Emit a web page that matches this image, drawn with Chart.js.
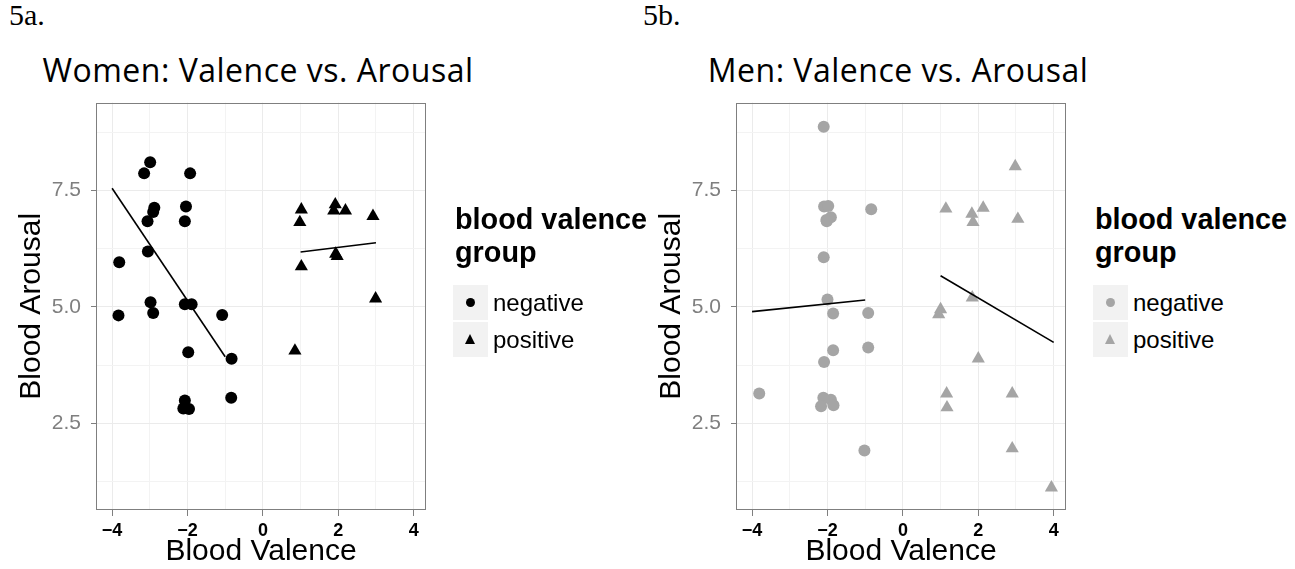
<!DOCTYPE html>
<html>
<head>
<meta charset="utf-8">
<script src="https://cdn.jsdelivr.net/npm/chart.js@4.4.0/dist/chart.umd.min.js"></script>
<style>
  html, body { margin:0; padding:0; background:#fff; }
  body { width:1295px; height:569px; position:relative; overflow:hidden; font-family:"Liberation Sans", Arial, sans-serif; color:#000; }
  .fig { position:absolute; top:0px; font-family:"Liberation Serif", serif; font-size:30px; line-height:30px; white-space:nowrap; }
  .title { position:absolute; top:54px; font-family:"Open Sans", sans-serif; font-size:32px; line-height:32px; letter-spacing:0.5px; white-space:nowrap; transform:translateX(-50%); }
  .chartbox { position:absolute; top:95px; width:440px; height:474px; }
  .legend { position:absolute; top:203px; }
  .ltitle { font-weight:bold; font-size:28.8px; line-height:33px; white-space:nowrap; margin-left:2px; }
  .lrow { position:relative; height:37px; width:200px; }
  .lkey { position:absolute; left:0; top:0; width:35px; height:35px; background:#f2f2f2; }
  .ltext { position:absolute; left:40px; top:0; font-size:24px; line-height:35px; white-space:nowrap; }
  .dot { position:absolute; left:13px; top:13px; width:9px; height:9px; border-radius:50%; }
  .tri { position:absolute; left:12px; top:12px; width:0; height:0; border-left:5.5px solid transparent; border-right:5.5px solid transparent; border-bottom:10px solid; }
</style>
</head>
<body>
<div class="fig" style="left:9px">5a.</div>
<div class="fig" style="left:643px">5b.</div>
<div class="title" style="left:258px">Women: Valence vs. Arousal</div>
<div class="title" style="left:898px">Men: Valence vs. Arousal</div>

<div class="chartbox" style="left:0px"><canvas id="cw" width="440" height="474"></canvas></div>
<div class="chartbox" style="left:640px"><canvas id="cm" width="440" height="474"></canvas></div>

<div class="legend" style="left:453px">
  <div class="ltitle">blood valence<br>group</div>
  <div style="height:16px"></div>
  <div class="lrow"><div class="lkey"><div class="dot" style="background:#000"></div></div><div class="ltext">negative</div></div>
  <div class="lrow"><div class="lkey"><div class="tri" style="border-bottom-color:#000"></div></div><div class="ltext">positive</div></div>
</div>
<div class="legend" style="left:1093px">
  <div class="ltitle">blood valence<br>group</div>
  <div style="height:16px"></div>
  <div class="lrow"><div class="lkey"><div class="dot" style="background:#a5a5a5"></div></div><div class="ltext">negative</div></div>
  <div class="lrow"><div class="lkey"><div class="tri" style="border-bottom-color:#a5a5a5"></div></div><div class="ltext">positive</div></div>
</div>

<script>
// ---------- data ----------
const xTicks = [-4, -3, -2, -1, 0, 1, 2, 3, 4];
const xLabelTicks = [-4, -2, 0, 2, 4];
const yTicks = [1.25, 2.5, 3.75, 5, 6.25, 7.5, 8.75];
const yLabelTicks = [2.5, 5, 7.5];

// Women, negative valence (circles)
const womenNegX = [-2.99, -3.15, -1.93, -2.88, -2.91, -2.04, -3.06, -2.07, -3.05, -3.81, -2.98, -2.91, -3.83, -2.07, -1.89, -1.08, -1.98, -0.83, -0.84, -2.07, -2.11, -1.96];
const womenNegY = [8.11, 7.87, 7.87, 7.13, 7.04, 7.16, 6.84, 6.84, 6.19, 5.96, 5.10, 4.87, 4.82, 5.06, 5.06, 4.83, 4.03, 3.89, 3.05, 2.99, 2.82, 2.81];
// Women, positive valence (triangles)
const womenPosX = [1.02, 0.98, 1.92, 1.88, 2.19, 2.92, 1.93, 1.97, 1.02, 2.99, 0.85];
const womenPosY = [7.09, 6.82, 7.20, 7.07, 7.07, 6.95, 6.14, 6.09, 5.87, 5.18, 4.06];
// Women fitted lines
const womenNegLineX = [-4, -1];
const womenNegLineY = [7.55, 3.93];
const womenPosLineX = [1, 3];
const womenPosLineY = [6.18, 6.38];

// Men, negative valence (circles)
const menNegX = [-2.10, -2.09, -1.98, -2.03, -1.91, -2.02, -0.84, -2.10, -2.00, -1.85, -0.92, -1.85, -0.92, -2.09, -3.81, -2.11, -1.91, -2.17, -1.84, -1.02];
const menNegY = [8.87, 7.16, 7.17, 6.87, 6.93, 6.84, 7.10, 6.07, 5.16, 4.86, 4.87, 4.07, 4.13, 3.82, 3.14, 3.05, 3.01, 2.87, 2.89, 1.92];
// Men, positive valence (triangles)
const menPosX = [2.98, 1.14, 1.83, 2.13, 1.86, 3.05, 1.84, 1.00, 0.95, 2.00, 1.16, 2.90, 1.17, 2.90, 3.94];
const menPosY = [8.02, 7.11, 7.00, 7.13, 6.82, 6.89, 5.20, 4.95, 4.84, 3.89, 3.14, 3.14, 2.84, 1.96, 1.12];
// Men fitted lines
const menNegLineX = [-4, -1];
const menNegLineY = [4.90, 5.15];
const menPosLineX = [1, 4];
const menPosLineY = [5.67, 4.24];

// ---------- helpers ----------
const zip = (xs, ys) => xs.map((x, i) => ({ x: x, y: ys[i] }));
const fmtX = v => (v < 0 ? '\u2212' + Math.abs(v) : String(v));

const panelBox = {
  id: 'panelBox',
  beforeDatasetsDraw(chart) {
    const a = chart.chartArea, c = chart.ctx;
    c.save();
    c.strokeStyle = '#7f7f7f';
    c.lineWidth = 1;
    c.strokeRect(Math.round(a.left) - 0.5, Math.round(a.top) + 0.5, Math.round(a.right - a.left) + 1, Math.round(a.bottom - a.top) - 1);
    c.restore();
  }
};

function makeChart(id, negX, negY, posX, posY, nlx, nly, plx, ply, color) {
  const ctx = document.getElementById(id);
  return new Chart(ctx, {
    type: 'scatter',
    data: {
      datasets: [
        { type: 'line', label: 'fit negative', data: zip(nlx, nly), borderColor: '#000', borderWidth: 1.6, pointRadius: 0, fill: false, order: 0 },
        { type: 'line', label: 'fit positive', data: zip(plx, ply), borderColor: '#000', borderWidth: 1.6, pointRadius: 0, fill: false, order: 0 },
        { label: 'negative', data: zip(negX, negY), pointStyle: 'circle', pointRadius: 6, pointHoverRadius: 6, backgroundColor: color, borderWidth: 0, order: 1 },
        { label: 'positive', data: zip(posX, posY), pointStyle: 'triangle', pointRadius: 7.6, pointHoverRadius: 7.6, backgroundColor: color, borderWidth: 0, order: 1 }
      ]
    },
    options: {
      responsive: false,
      animation: false,
      devicePixelRatio: 1,
      layout: { padding: { left: 0, right: 15, top: 7, bottom: 0 } },
      plugins: { legend: { display: false }, tooltip: { enabled: false }, title: { display: false } },
      scales: {
        x: {
          type: 'linear', min: -4.4, max: 4.3,
          afterBuildTicks: s => { s.ticks = xTicks.map(v => ({ value: v })); },
          afterFit: s => { s.height = 59; s.paddingLeft = 0; s.paddingRight = 0; },
          ticks: {
            autoSkip: false, maxRotation: 0, padding: 4, color: '#000',
            font: { family: 'Liberation Sans', size: 18, weight: 'bold' },
            callback: v => (xLabelTicks.includes(v) ? fmtX(v) : '')
          },
          grid: {
            color: c => (c.tick && xLabelTicks.includes(c.tick.value) ? '#ebebeb' : '#f3f3f3'),
            tickColor: c => (c.tick && xLabelTicks.includes(c.tick.value) ? '#7f7f7f' : 'rgba(0,0,0,0)'),
            tickLength: 6, lineWidth: 1
          },
          border: { display: false },
          title: { display: true, text: 'Blood Valence', color: '#000', font: { family: 'Liberation Sans', size: 30, lineHeight: 1 }, padding: { top: 0, bottom: 2 } }
        },
        y: {
          type: 'linear', min: 0.64, max: 9.39,
          afterBuildTicks: s => { s.ticks = yTicks.map(v => ({ value: v })); },
          afterFit: s => { s.width = 97; s.paddingTop = 0; s.paddingBottom = 0; },
          ticks: {
            autoSkip: false, padding: 10, color: '#7f7f7f',
            font: { family: 'Liberation Sans', size: 21 },
            callback: v => (yLabelTicks.includes(v) ? v.toFixed(1) : '')
          },
          grid: {
            color: c => (c.tick && yLabelTicks.includes(c.tick.value) ? '#ebebeb' : '#f3f3f3'),
            tickColor: c => (c.tick && yLabelTicks.includes(c.tick.value) ? '#7f7f7f' : 'rgba(0,0,0,0)'),
            tickLength: 6, lineWidth: 1
          },
          border: { display: false },
          title: { display: true, text: 'Blood Arousal', color: '#000', font: { family: 'Liberation Sans', size: 30, lineHeight: 1 }, padding: { top: 17, bottom: 0 } }
        }
      }
    },
    plugins: [panelBox]
  });
}

makeChart('cw', womenNegX, womenNegY, womenPosX, womenPosY, womenNegLineX, womenNegLineY, womenPosLineX, womenPosLineY, '#000000');
makeChart('cm', menNegX, menNegY, menPosX, menPosY, menNegLineX, menNegLineY, menPosLineX, menPosLineY, '#a5a5a5');
</script>
</body>
</html>
